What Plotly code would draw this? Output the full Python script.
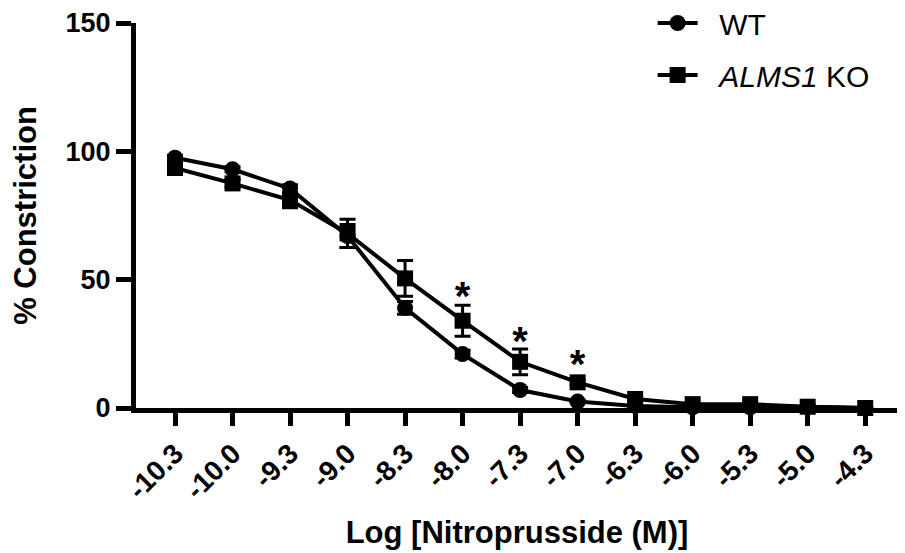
import plotly.graph_objects as go

doses = ["-10.3", "-10.0", "-9.3", "-9.0", "-8.3", "-8.0", "-7.3", "-7.0",
         "-6.3", "-6.0", "-5.3", "-5.0", "-4.3"]
wt = [97.5, 93, 85.5, 67, 39, 21, 7, 2.5, 0.8, 0.3, 0.3, 0.5, 0]
wt_err = [1, 1, 1.5, 4.5, 2.5, 1.5, 1, 0.5, 0.3, 0.2, 0.2, 0.2, 0]
ko = [93.5, 87.5, 81, 68, 50.5, 34, 18, 10, 3.5, 1.5, 1.5, 0.5, 0]
ko_err = [1.5, 1.5, 3, 5.5, 7, 6, 5, 1, 0.5, 0.3, 0.3, 0.2, 0]
sig_x = ["-8.0", "-7.3", "-7.0"]
sig_y = [42, 24.5, 15.5]

font = "Arial, Liberation Sans, sans-serif"
pad = "\u00a0\u00a0"
fig = go.Figure()
fig.add_trace(go.Scatter(
    x=doses, y=wt, name=pad + "WT", mode="lines+markers",
    legendgroup="wt",
    line=dict(color="black", width=4),
    marker=dict(symbol="circle", size=16, color="black"),
    error_y=dict(type="data", array=wt_err, color="black", thickness=3, width=8),
    cliponaxis=False))
fig.add_trace(go.Scatter(
    x=doses, y=ko, name=pad + "<i>ALMS1</i> KO", mode="lines+markers",
    legendgroup="ko",
    line=dict(color="black", width=4),
    marker=dict(symbol="square", size=16, color="black"),
    error_y=dict(type="data", array=ko_err, color="black", thickness=3, width=8),
    cliponaxis=False))
fig.add_trace(go.Scatter(
    x=sig_x, y=sig_y, mode="text", text=["*"] * len(sig_x),
    textfont=dict(family=font, size=40, color="black", weight="bold"),
    showlegend=False, cliponaxis=False))

fig.update_layout(
    width=897, height=545,
    margin=dict(l=128, r=7, t=15, b=145, autoexpand=False),
    plot_bgcolor="white", paper_bgcolor="white",
    font=dict(family=font, color="black"),
    legend=dict(x=0.678, y=1.0675, xanchor="left", yanchor="top",
                traceorder="grouped", tracegroupgap=10,
                font=dict(size=30, family=font),
                bgcolor="rgba(0,0,0,0)", itemwidth=40),
    xaxis=dict(type="category", categoryorder="array", categoryarray=doses,
               range=[-0.678, 12.57], showline=True, linewidth=5, linecolor="black",
               ticks="outside", ticklen=13, tickwidth=5, tickcolor="black",
               tickangle=-45, showgrid=False, zeroline=False, automargin=False,
               tickfont=dict(size=28, family=font, weight="bold"),
               title=dict(text="<b>Log [Nitroprusside (M)]</b>",
                          font=dict(size=31, family=font), standoff=19)),
    yaxis=dict(range=[0, 150], tickvals=[0, 50, 100, 150], showline=True,
               linewidth=5, linecolor="black", ticks="outside", ticklen=15,
               tickwidth=5, tickcolor="black", showgrid=False, zeroline=False,
               automargin=False,
               tickfont=dict(size=27, family=font, weight="bold"),
               title=dict(text="<b>% Constriction</b>",
                          font=dict(size=31, family=font), standoff=23)),
)
fig.write_html("out.html")
